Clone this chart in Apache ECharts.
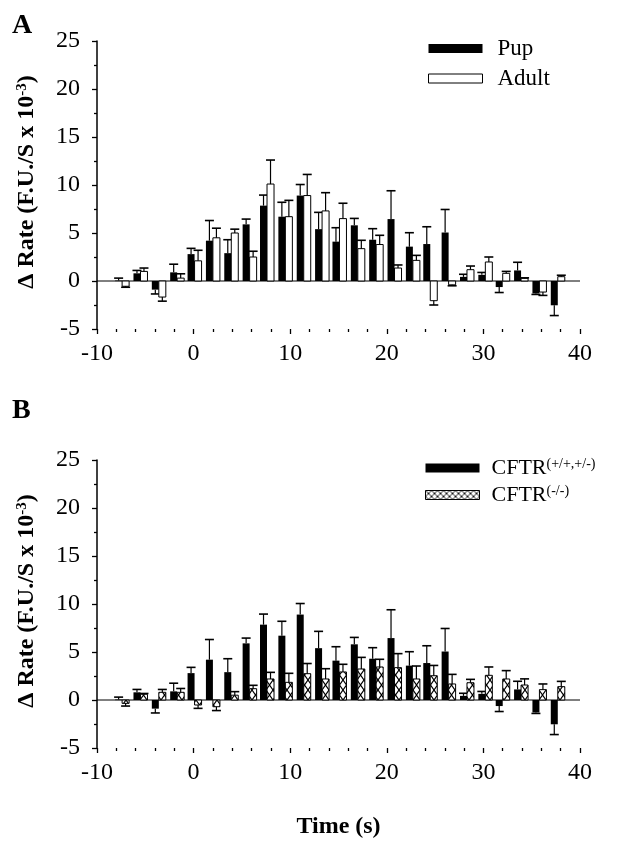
<!DOCTYPE html>
<html><head><meta charset="utf-8">
<script src="https://cdn.jsdelivr.net/npm/echarts@6/dist/echarts.min.js"></script>
<style>html,body{margin:0;padding:0;background:#fff}#c{width:618px;height:841px}</style>
</head><body><div id="c"></div>
<script>
// ---- data ----
const times      = [-7.4, -5.5, -3.6, -1.7, 0.1, 2.0, 3.9, 5.8, 7.6, 9.5, 11.4, 13.3, 15.1, 17.0, 18.9, 20.8, 22.7, 24.5, 26.4, 28.3, 30.2, 32.0, 33.9, 35.8, 37.7];
const pup        = [0.05, 0.8, -0.9, 0.9, 2.8, 4.2, 2.9, 5.9, 7.85, 6.7, 8.9, 5.4, 4.1, 5.8, 4.3, 6.45, 3.58, 3.85, 5.05, 0.43, 0.64, -0.63, 1.1, -1.3, -2.53];
const pupErr     = [0.25, 0.3, 0.45, 0.85, 0.6, 2.1, 1.4, 0.55, 1.1, 1.5, 1.15, 1.75, 1.45, 0.72, 1.15, 2.95, 1.45, 1.8, 2.4, 0.27, 0.25, 0.57, 0.85, 0.1, 1.07];
const adult      = [-0.55, 1.0, -1.67, 0.3, 2.1, 4.5, 5.0, 2.5, 10.1, 6.7, 8.9, 7.3, 6.5, 3.37, 3.8, 1.35, 2.15, -2.05, -0.4, 1.18, 1.98, 0.8, 0.28, -1.15, 0.45];
const adultErr   = [0.1, 0.35, 0.43, 0.45, 1.1, 1.0, 0.4, 0.6, 2.5, 1.7, 2.2, 1.9, 1.6, 0.87, 0.96, 0.32, 0.52, 0.45, 0.1, 0.38, 0.52, 0.2, 0.05, 0.35, 0.15];
const cftrWT     = [0.05, 0.8, -0.9, 0.9, 2.8, 4.2, 2.9, 5.9, 7.85, 6.7, 8.9, 5.4, 4.1, 5.8, 4.3, 6.45, 3.58, 3.85, 5.05, 0.43, 0.64, -0.63, 1.1, -1.3, -2.53];
const cftrWTErr  = [0.25, 0.3, 0.45, 0.85, 0.6, 2.1, 1.4, 0.55, 1.1, 1.5, 1.15, 1.75, 1.45, 0.72, 1.15, 2.95, 1.45, 1.8, 2.4, 0.27, 0.25, 0.57, 0.85, 0.1, 1.07];
const cftrKO     = [-0.35, 0.6, 0.8, 0.8, -0.52, -0.7, 0.5, 1.18, 2.19, 1.84, 2.74, 2.19, 2.92, 3.23, 3.44, 3.37, 2.19, 2.53, 1.67, 1.8, 2.57, 2.19, 1.56, 1.08, 1.39];
const cftrKOErr  = [0.28, 0.08, 0.3, 0.4, 0.35, 0.4, 0.37, 0.35, 0.69, 0.94, 1.06, 1.07, 0.8, 1.21, 0.8, 1.46, 1.35, 1.07, 1.0, 0.35, 0.87, 0.87, 0.64, 0.59, 0.55];
const xTickLabels = [-10, 0, 10, 20, 30, 40];
const yTickLabels = [-5, 0, 5, 10, 15, 20, 25];
const namesA = ['Pup', 'Adult'];
const namesB = ['CFTR(+/+,+/-)', 'CFTR(-/-)'];

// ---- styling ----
const FONT = '"Liberation Serif", "DejaVu Serif", serif';
const BAR_W = 7;

function makeHatch(w, h, lw) {
  const c = document.createElement('canvas');
  c.width = w; c.height = h;
  const g = c.getContext('2d');
  g.fillStyle = '#fff'; g.fillRect(0, 0, w, h);
  g.strokeStyle = '#000'; g.lineWidth = lw;
  g.beginPath(); g.moveTo(0, 0); g.lineTo(w, h); g.moveTo(w, 0); g.lineTo(0, h); g.stroke();
  return { image: c, repeat: 'repeat' };
}
const hatchFill = makeHatch(7, 10, 1.2);
const hatchLegend = makeHatch(6, 6, 0.9);

function barRenderer(side, fill, stroke) {
  return function (params, api) {
    const t = api.value(0), v = api.value(1), e = api.value(2);
    const p0 = api.coord([t, 0]);
    const p1 = api.coord([t, v]);
    const pe = api.coord([t, v >= 0 ? v + e : v - e]);
    const x0 = side < 0 ? p0[0] - BAR_W : p0[0];
    const cx = x0 + BAR_W / 2;
    const yTop = Math.min(p0[1], p1[1]);
    const h = Math.max(Math.abs(p1[1] - p0[1]), 0.6);
    return {
      type: 'group', children: [
        { type: 'rect', shape: { x: x0, y: yTop, width: BAR_W, height: h },
          style: { fill: fill, stroke: stroke || null, lineWidth: stroke ? 1 : 0 } },
        { type: 'line', shape: { x1: cx, y1: p1[1], x2: cx, y2: pe[1] },
          style: { stroke: '#000', lineWidth: 1.2 } },
        { type: 'line', shape: { x1: cx - 4.5, y1: pe[1], x2: cx + 4.5, y2: pe[1] },
          style: { stroke: '#000', lineWidth: 1.6 } }
      ]
    };
  };
}
function rows(vals, errs) { return times.map((t, i) => [t, vals[i], errs[i]]); }

function xAx(i) {
  return {
    gridIndex: i, type: 'value', min: xTickLabels[0], max: xTickLabels[xTickLabels.length - 1], interval: 10,
    axisLine: { show: false, onZero: false },
    axisTick: { show: true, length: 5, lineStyle: { color: '#000', width: 1.3 } },
    minorTick: { show: true, splitNumber: 5, length: 3, lineStyle: { color: '#000', width: 1.3 } },
    splitLine: { show: false },
    axisLabel: { fontSize: 24, fontFamily: FONT, color: '#000', margin: 13 },
    name: i === 1 ? 'Time (s)' : '', nameLocation: 'middle', nameGap: 67,
    nameTextStyle: { fontSize: 24, fontFamily: FONT, fontWeight: 'bold', color: '#000' }
  };
}
function yAx(i) {
  return {
    gridIndex: i, type: 'value', min: yTickLabels[0], max: yTickLabels[yTickLabels.length - 1], interval: 5,
    axisLine: { show: true, onZero: false, lineStyle: { color: '#000', width: 1.5 } },
    axisTick: { show: true, length: 5, lineStyle: { color: '#000', width: 1.3 } },
    minorTick: { show: true, splitNumber: 2, length: 3, lineStyle: { color: '#000', width: 1.3 } },
    splitLine: { show: false },
    axisLabel: { fontSize: 24, fontFamily: FONT, color: '#000', margin: 17 }
  };
}
function zeroLine(i) {
  return { type: 'line', xAxisIndex: i, yAxisIndex: i, silent: true, symbol: 'none', z: 1,
    data: [[xTickLabels[0], 0], [xTickLabels[xTickLabels.length - 1], 0]],
    lineStyle: { color: '#000', width: 1 } };
}
const legendText = (padL) => ({
  fontSize: 23, fontFamily: FONT, color: '#000', lineHeight: 22, padding: [0, 0, 0, padL],
  rich: {
    m: { fontSize: 22, fontFamily: FONT, color: '#000', lineHeight: 22 },
    s: { fontSize: 14, fontFamily: FONT, color: '#000', lineHeight: 14, verticalAlign: 'top' }
  }
});
const yTitle = (y) => ({
  type: 'text', x: 27, y: y, rotation: Math.PI / 2,
  style: {
    text: '{b|Δ Rate (F.U./S x 10}{s|-3}{b|)}',
    align: 'center', verticalAlign: 'middle', textAlign: 'center', textVerticalAlign: 'middle',
    rich: {
      b: { fontSize: 24, fontWeight: 'bold', fontFamily: FONT, fill: '#000', lineHeight: 24 },
      s: { fontSize: 15, fontWeight: 'bold', fontFamily: FONT, fill: '#000', lineHeight: 15, verticalAlign: 'top' }
    }
  }
});

const option = {
  animation: false,
  backgroundColor: '#fff',
  grid: [
    { left: 97, right: 38, top: 41, height: 288 },
    { left: 97, right: 38, top: 460, height: 288 }
  ],
  xAxis: [xAx(0), xAx(1)],
  yAxis: [yAx(0), yAx(1)],
  legend: [
    { orient: 'vertical', left: 423, top: 32, itemWidth: 54, itemHeight: 9, itemGap: 7, icon: 'rect',
      textStyle: legendText(10), selectedMode: false,
      data: [
        { name: namesA[0], itemStyle: { color: '#000', borderWidth: 0 } },
        { name: namesA[1], itemStyle: { color: '#fff', borderColor: '#000', borderWidth: 1 } }
      ] },
    { orient: 'vertical', left: 420, top: 452, itemWidth: 54, itemHeight: 9, itemGap: 5, icon: 'rect',
      textStyle: legendText(7), selectedMode: false,
      formatter: (n) => '{m|CFTR}{s|' + n.slice(4) + '}',
      data: [
        { name: namesB[0], itemStyle: { color: '#000', borderWidth: 0 } },
        { name: namesB[1], itemStyle: { color: hatchLegend, borderColor: '#000', borderWidth: 1 } }
      ] }
  ],
  graphic: [
    { type: 'text', x: 12, y: 12, style: { text: 'A', fontSize: 28, fontWeight: 'bold', fontFamily: FONT, fill: '#000' } },
    { type: 'text', x: 12, y: 397, style: { text: 'B', fontSize: 28, fontWeight: 'bold', fontFamily: FONT, fill: '#000' } },
    yTitle(182), yTitle(601)
  ],
  series: [
    zeroLine(0), zeroLine(1),
    { type: 'custom', name: namesA[0], xAxisIndex: 0, yAxisIndex: 0, z: 3,
      itemStyle: { color: '#000' }, renderItem: barRenderer(-1, '#000', null), data: rows(pup, pupErr) },
    { type: 'custom', name: namesA[1], xAxisIndex: 0, yAxisIndex: 0, z: 3,
      itemStyle: { color: '#fff', borderColor: '#000', borderWidth: 1 }, renderItem: barRenderer(1, '#fff', '#000'), data: rows(adult, adultErr) },
    { type: 'custom', name: namesB[0], xAxisIndex: 1, yAxisIndex: 1, z: 3,
      itemStyle: { color: '#000' }, renderItem: barRenderer(-1, '#000', null), data: rows(cftrWT, cftrWTErr) },
    { type: 'custom', name: namesB[1], xAxisIndex: 1, yAxisIndex: 1, z: 3,
      itemStyle: { color: hatchLegend, borderColor: '#000', borderWidth: 1 }, renderItem: barRenderer(1, hatchFill, '#000'), data: rows(cftrKO, cftrKOErr) }
  ]
};
const chart = echarts.init(document.getElementById('c'), null, { renderer: 'canvas' });
chart.setOption(option);
</script></body></html>
